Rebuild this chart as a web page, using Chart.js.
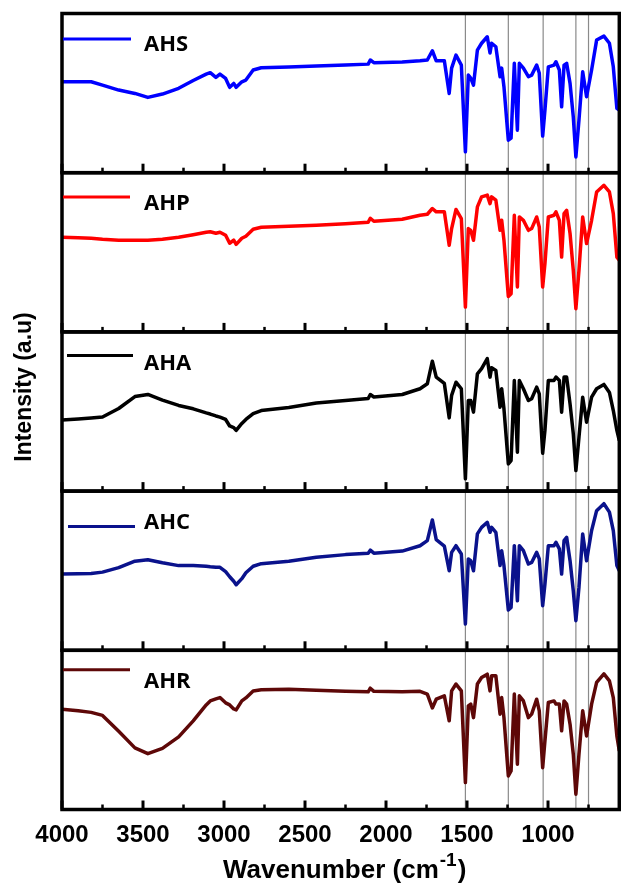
<!DOCTYPE html>
<html><head><meta charset="utf-8">
<script src="https://cdn.jsdelivr.net/npm/chart.js@4.4.1/dist/chart.umd.min.js"></script>
<style>html,body{margin:0;padding:0;background:#fff}#wrap{position:relative;width:621px;height:884px}</style>
</head><body><div id="wrap"><canvas id="c"></canvas></div>
<script>
// Wavenumber grid (cm-1)
const wavenumbers = [4000,3900,3820,3750,3650,3550,3470,3380,3280,3190,
  3110,3085,3050,3025,2990,2965,2940,2925,2890,2865,
  2820,2770,2600,2430,2250,2110,2097,2075,1900,1790,
  1745,1714,1690,1640,1610,1595,1568,1535,1510,1492,
  1477,1460,1436,1410,1375,1358,1348,1322,1296,1286,
  1272,1245,1228,1208,1189,1177,1152,1121,1101,1070,
  1054,1033,1019,998,963,951,930,916,901,885,
  864,844,828,809,786,762,731,700,655,621,
  597,575,560];

// Intensities (a.u., 0-100 within each panel)
const AHS = [57.1,57.1,57.1,55.0,51.9,49.8,47.3,49.4,53.0,57.9,
  61.9,62.8,59.9,61.9,59.2,53.6,56.1,53.6,57.1,58.2,
  64.5,65.9,66.4,67.0,67.6,68.2,70.8,69.1,69.5,70.3,
  70.8,76.6,70.3,70.3,49.8,65.7,73.9,67.6,13.1,61.3,
  59.4,55.0,77.0,81.3,85.4,75.2,81.3,79.1,60.3,65.7,
  54.0,20.4,21.7,68.7,26.7,68.7,65.7,60.3,61.3,67.6,
  62.6,23.0,39.3,66.5,67.6,69.7,64.5,41.4,67.6,68.7,
  56.1,35.1,9.9,33.0,63.4,47.7,64.5,83.3,85.8,81.3,
  66.5,40.4,39.3];
const AHP = [59.4,59.1,58.8,58.2,57.6,57.6,57.6,58.2,59.4,61.0,
  62.6,62.9,62.0,62.6,60.7,55.7,57.6,55.0,58.8,60.1,
  64.5,65.7,66.4,67.0,67.9,68.9,71.4,69.5,70.8,73.3,
  73.9,77.5,75.4,75.4,54.4,64.9,76.9,71.2,15.6,64.9,
  63.8,57.6,78.5,84.8,85.9,80.6,84.8,82.7,63.8,70.1,
  57.6,22.3,24.0,73.3,28.2,72.2,70.1,63.8,64.9,72.2,
  65.9,28.2,42.9,72.2,73.3,75.4,70.1,47.0,74.3,76.4,
  61.8,38.7,14.6,38.7,72.2,55.5,70.1,87.9,92.1,87.9,
  74.3,47.0,45.0];
const AHA = [44.7,45.3,45.9,46.5,51.9,59.4,60.7,57.2,53.8,51.7,
  49.1,48.4,47.2,46.5,45.0,40.9,39.9,38.1,42.5,45.0,
  48.7,50.6,52.5,55.4,56.9,58.2,60.7,59.1,60.7,64.3,
  67.4,81.6,71.6,67.6,46.0,60.1,68.4,64.3,7.7,56.9,
  56.9,49.6,73.7,76.9,83.2,71.6,77.5,75.8,52.7,64.3,
  51.7,17.1,19.2,69.5,24.4,69.5,64.3,56.9,58.0,65.3,
  61.1,23.8,38.1,69.5,69.5,71.6,69.5,49.6,71.6,71.6,
  54.8,36.0,12.9,33.8,59.0,43.3,59.0,64.3,67.0,62.0,
  50.6,38.1,31.8];
const AHC = [47.9,48.1,48.3,49.1,51.9,56.0,56.9,55.0,53.2,53.2,
  52.8,52.5,52.2,52.1,49.4,46.2,43.4,41.2,45.0,48.7,
  52.8,54.4,56.0,58.5,60.1,61.0,62.9,61.0,62.3,65.7,
  68.9,81.9,69.5,65.4,50.0,61.5,65.7,60.5,16.5,57.4,
  56.3,50.0,73.1,77.2,80.4,74.1,77.2,74.1,53.2,62.6,
  53.2,25.3,26.9,65.7,31.1,65.7,62.6,54.2,55.2,61.5,
  57.4,28.0,41.6,65.7,65.7,67.8,63.7,47.9,68.9,71.0,
  56.3,37.4,18.6,39.5,73.1,56.3,75.2,87.7,92.1,86.8,
  75.2,53.2,50.0];
const AHR = [63.0,62.0,61.0,59.1,49.1,38.7,35.1,38.4,45.6,55.7,
  65.7,68.2,69.5,70.3,67.0,65.7,63.2,62.6,68.2,70.1,
  74.5,75.2,75.5,74.9,74.2,73.9,76.2,74.2,73.9,74.2,
  72.5,63.8,69.3,71.4,55.7,74.5,78.8,74.5,16.9,65.1,
  66.2,57.7,78.8,82.9,85.0,74.5,84.0,84.0,59.9,70.3,
  57.7,21.1,24.2,72.5,28.4,71.4,68.2,57.7,59.9,69.3,
  62.0,26.3,43.1,67.2,68.2,66.2,66.2,49.4,68.2,66.2,
  53.6,34.7,9.6,34.7,62.0,46.2,66.2,79.8,85.2,80.8,
  70.3,46.2,36.8];

const seriesNames = ['AHS','AHP','AHA','AHC','AHR'];
const seriesValues = [AHS, AHP, AHA, AHC, AHR];
const xTickValues = [4000,3500,3000,2500,2000,1500,1000];
const minorTickValues = [3750,3250,2750,2250,1750,1250,750];
const markerLines = [1510,1245,1030,828,750];

// styles
const colors = ['#0000ff','#ff0000','#000000','#0a128c','#5e0808'];
const legendStyle = [
  {x0:63, x1:131, lineDy:25.5, textDy:37.2},
  {x0:63, x1:130, lineDy:24.2, textDy:36.8},
  {x0:67, x1:133, lineDy:23.5, textDy:37.8},
  {x0:68, x1:135, lineDy:35.5, textDy:38.0},
  {x0:63, x1:130, lineDy:19.5, textDy:37.8}
];

const scales = {
  x: {
    type:'linear', position:'bottom', reverse:true, min:560, max:4000,
    afterBuildTicks: ax => { ax.ticks = xTickValues.map(v => ({value:v})); },
    ticks:{ color:'#000', font:{family:'"Liberation Sans", Arial, sans-serif', size:24, weight:'bold'}, padding:11, maxRotation:0, autoSkip:false, callback: v => String(v) },
    grid:{display:false, drawTicks:false}, border:{display:false}
  }
};
seriesNames.forEach((n, i) => {
  scales['y' + i] = {
    type:'linear', position:'left', stack:'panels', stackWeight:1, weight: seriesNames.length - i,
    min:0, max:100, display:true,
    ticks:{display:false}, grid:{display:false, drawTicks:false}, border:{display:false}
  };
});

const panelPlugin = {
  id:'panels',
  beforeDatasetsDraw(chart) {
    const {ctx, chartArea:a} = chart;
    const xs = chart.scales.x;
    ctx.save();
    ctx.strokeStyle = '#8a8a8a'; ctx.lineWidth = 1.2;
    markerLines.forEach(v => {
      const px = xs.getPixelForValue(v);
      ctx.beginPath(); ctx.moveTo(px, a.top); ctx.lineTo(px, a.bottom); ctx.stroke();
    });
    ctx.restore();
  },
  afterDatasetsDraw(chart) {
    const {ctx, chartArea:a} = chart;
    const xs = chart.scales.x;
    ctx.save();
    seriesNames.forEach((name, i) => {
      const ys = chart.scales['y' + i];
      ctx.strokeStyle = '#000'; ctx.lineCap = 'butt';
      ctx.lineWidth = 3;
      xTickValues.forEach(v => {
        const px = xs.getPixelForValue(v);
        ctx.beginPath(); ctx.moveTo(px, ys.bottom); ctx.lineTo(px, ys.bottom - 9); ctx.stroke();
      });
      ctx.lineWidth = 2.5;
      minorTickValues.forEach(v => {
        const px = xs.getPixelForValue(v);
        ctx.beginPath(); ctx.moveTo(px, ys.bottom); ctx.lineTo(px, ys.bottom - 5); ctx.stroke();
      });
      ctx.lineWidth = 3.5;
      ctx.strokeRect(a.left, ys.top, a.right - a.left, ys.bottom - ys.top);
      const L = legendStyle[i];
      ctx.strokeStyle = colors[i]; ctx.lineWidth = 3;
      ctx.beginPath(); ctx.moveTo(L.x0, ys.top + L.lineDy); ctx.lineTo(L.x1, ys.top + L.lineDy); ctx.stroke();
      ctx.fillStyle = '#000'; ctx.font = 'bold 22px "Open Sans", sans-serif';
      ctx.textAlign = 'left'; ctx.textBaseline = 'alphabetic';
      ctx.fillText(name, 144, ys.top + L.textDy);
    });
    // y title
    ctx.save();
    ctx.translate(31, 387); ctx.rotate(-Math.PI/2);
    ctx.fillStyle = '#000'; ctx.font = 'bold 23px "Liberation Sans", Arial, sans-serif';
    ctx.textAlign = 'center'; ctx.textBaseline = 'alphabetic';
    ctx.fillText('Intensity (a.u)', 0, 0);
    ctx.restore();
    // x title with superscript
    const big = 'bold 26px "Liberation Sans", Arial, sans-serif';
    const small = 'bold 19px "Liberation Sans", Arial, sans-serif';
    ctx.fillStyle = '#000'; ctx.textAlign = 'left'; ctx.textBaseline = 'alphabetic';
    ctx.font = big; const w1 = ctx.measureText('Wavenumber (cm').width; const w3 = ctx.measureText(')').width;
    ctx.font = small; const w2 = ctx.measureText('-1').width;
    const cx = (a.left + a.right) / 2 + 3;
    let sx = cx - (w1 + w2 + w3) / 2;
    const base = 878;
    ctx.font = big; ctx.fillText('Wavenumber (cm', sx, base);
    ctx.font = small; ctx.fillText('-1', sx + w1 + 1, base - 12);
    ctx.font = big; ctx.fillText(')', sx + w1 + w2 + 2, base);
    ctx.restore();
  }
};

new Chart(document.getElementById('c'), {
  type:'line',
  data:{
    datasets: seriesNames.map((n, i) => ({
      label:n,
      data: wavenumbers.map((w, j) => ({x:w, y:seriesValues[i][j]})),
      yAxisID:'y' + i,
      borderColor:colors[i], borderWidth:3.5, pointRadius:0, tension:0,
      borderJoinStyle:'round', fill:false
    }))
  },
  options:{
    responsive:true, maintainAspectRatio:false, animation:false,
    layout:{padding:{left:62, right:1.7, top:13.5, bottom:23.7}},
    plugins:{legend:{display:false}, tooltip:{enabled:false}},
    scales
  },
  plugins:[panelPlugin]
});
</script></body></html>
